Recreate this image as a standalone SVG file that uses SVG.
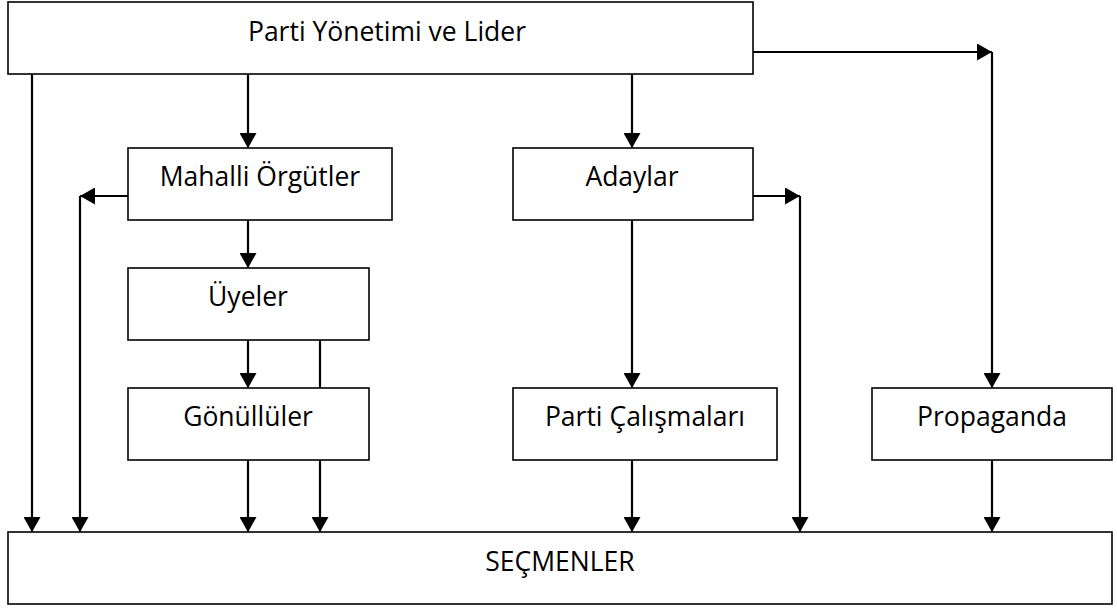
<svg xmlns="http://www.w3.org/2000/svg" width="1117" height="608" viewBox="0 0 1117 608">
<style>
.box{fill:#fff;stroke:#000;stroke-width:1.6}
.lbl{font-family:"Open Sans","Liberation Sans",sans-serif;font-size:26.5px;fill:#000;text-anchor:middle}
.ln{fill:none;stroke:#000;stroke-width:2.2}
.ar{marker-end:url(#ah)}
</style>
<defs>
<marker id="ah" markerUnits="userSpaceOnUse" markerWidth="16" markerHeight="17" viewBox="0 0 15 17" refX="15" refY="8.5" orient="auto">
<path d="M0,0 L15,8.5 L0,17 z" fill="#000"/>
</marker>
</defs>
<rect width="1117" height="608" fill="#fff"/>
<g id="connectors">
<path class="ln ar" d="M32,74 V532"/>
<path class="ln ar" d="M248,74 V148"/>
<path class="ln ar" d="M632,74 V148"/>
<path class="ln ar" d="M753,52 H992"/>
<path class="ln ar" d="M992,52 V388"/>
<path class="ln ar" d="M128,196 H80"/>
<path class="ln ar" d="M80,196 V532"/>
<path class="ln ar" d="M248,220 V268"/>
<path class="ln ar" d="M248,340 V388"/>
<path class="ln" d="M320,340 V388"/>
<path class="ln ar" d="M248,460 V532"/>
<path class="ln ar" d="M320,460 V532"/>
<path class="ln ar" d="M632,220 V388"/>
<path class="ln ar" d="M753,196 H800"/>
<path class="ln ar" d="M800,196 V532"/>
<path class="ln ar" d="M632,460 V532"/>
<path class="ln ar" d="M992,460 V532"/>
</g>
<g id="lider"><rect class="box" x="8" y="2" width="745" height="72"/><text class="lbl" x="387" y="41">Parti Yönetimi ve Lider</text></g>
<g id="mahalli"><rect class="box" x="128" y="148" width="264" height="72"/><text class="lbl" x="260" y="186">Mahalli Örgütler</text></g>
<g id="adaylar"><rect class="box" x="513" y="148" width="240" height="72"/><text class="lbl" x="632" y="186">Adaylar</text></g>
<g id="uyeler"><rect class="box" x="128" y="268" width="241" height="72"/><text class="lbl" x="248" y="306">Üyeler</text></g>
<g id="gonulluler"><rect class="box" x="128" y="388" width="241" height="72"/><text class="lbl" x="248" y="426">Gönüllüler</text></g>
<g id="calismalar"><rect class="box" x="513" y="388" width="264" height="72"/><text class="lbl" x="645" y="426">Parti Çalışmaları</text></g>
<g id="propaganda"><rect class="box" x="872" y="388" width="240" height="72"/><text class="lbl" x="992" y="426">Propaganda</text></g>
<g id="secmenler"><rect class="box" x="8" y="532" width="1104" height="72"/><text class="lbl" x="560" y="571">SEÇMENLER</text></g>
</svg>
